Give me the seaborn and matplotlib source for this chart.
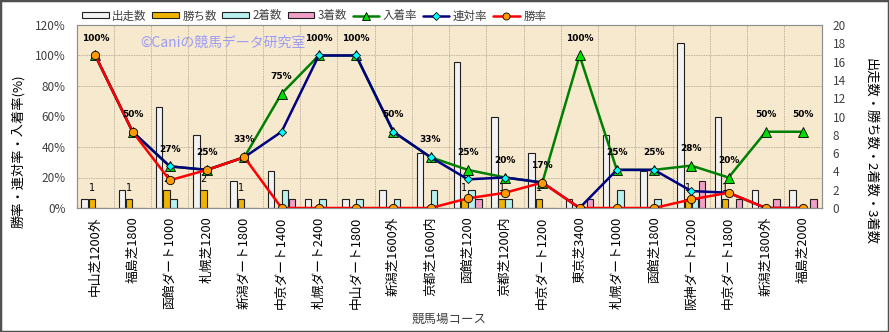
import numpy as np
import pandas as pd
import matplotlib
matplotlib.use("Agg")
import matplotlib.pyplot as plt
from matplotlib.patches import Patch, Rectangle
from matplotlib.lines import Line2D
import seaborn as sns

# ---- data -------------------------------------------------------------
courses = ["中山芝1200外", "福島芝1800", "函館ダート1000", "札幌芝1200", "新潟ダート1800",
           "中京ダート1400", "札幌ダート2400", "中山ダート1800", "新潟芝1600外", "京都芝1600内",
           "函館芝1200", "京都芝1200内", "中京ダート1200", "東京芝3400", "札幌ダート1000",
           "函館芝1800", "阪神ダート1200", "中京ダート1800", "新潟芝1800外", "福島芝2000"]

runs = [1, 2, 11, 8, 3, 4, 1, 1, 2, 6, 16, 10, 6, 1, 8, 4, 18, 10, 2, 2]
wins = [1, 1, 2, 2, 1, 0, 0, 0, 0, 0, 1, 1, 1, 0, 0, 0, 1, 1, 0, 0]
seconds = [0, 0, 1, 0, 0, 2, 1, 1, 1, 2, 2, 1, 0, 0, 2, 1, 1, 0, 0, 0]
thirds = [0, 0, 0, 0, 0, 1, 0, 0, 0, 0, 1, 0, 0, 1, 0, 0, 3, 1, 1, 1]

win_rate = [100, 50, 18.2, 25, 33.3, 0, 0, 0, 0, 0, 6.3, 10, 16.7, 0, 0, 0, 5.6, 10, 0, 0]
quinella_rate = [100, 50, 27.3, 25, 33.3, 50, 100, 100, 50, 33.3, 18.8, 20, 16.7, 0, 25, 25, 11.1, 10, 0, 0]
place_rate = [100, 50, 27.3, 25, 33.3, 75, 100, 100, 50, 33.3, 25, 20, 16.7, 100, 25, 25, 27.8, 20, 50, 50]

count_names = ["出走数", "勝ち数", "2着数", "3着数"]
rate_names = ["入着率", "連対率", "勝率"]

# ---- style ------------------------------------------------------------
sns.set_style("white")
plt.rcParams["font.family"] = ["Noto Sans CJK JP", "DejaVu Sans"]

bar_colors = ["#F2F2F2", "#F0B400", "#B8F0F0", "#F0A0C8"]
line_styles = {
    "入着率": dict(color="#008000", marker="^", mfc="#00DD00", ms=7.5),
    "連対率": dict(color="#000080", marker="D", mfc="#00FFFF", ms=4.5),
    "勝率": dict(color="#FF0000", marker="o", mfc="#FF9A00", ms=6),
}
text_gray = "#404040"

fig = plt.figure(figsize=(8.89, 3.32), dpi=100)
ax = fig.add_axes([76.7 / 889, 1 - 208 / 332, (821.7 - 76.7) / 889, (208 - 25) / 332])
ax.set_facecolor("#F7E9CE")

# ---- count bars (right scale) ----------------------------------------
df = pd.DataFrame({
    "コース": courses * 4,
    "数": runs + wins + seconds + thirds,
    "系列": sum([[n] * len(courses) for n in count_names], []),
})
sns.barplot(data=df, x="コース", y="数", hue="系列", hue_order=count_names,
            palette=bar_colors, saturation=1, width=0.76, gap=0.08,
            edgecolor="#202020", linewidth=0.8, ax=ax, legend=False)

win_bars = ax.containers[1]
ax.bar_label(win_bars, labels=[str(v) if v else "" for v in wins],
             padding=4, fontsize=7, color="black", family="DejaVu Sans")

# ---- rate lines (left scale) -----------------------------------------
ax2 = ax.twinx()

ax.set_xlim(-0.5, len(courses) - 0.5)
ax.set_ylim(0, 20)
ax.set_yticks(np.arange(0, 21, 2))
ax.yaxis.tick_right()
ax.yaxis.set_label_position("right")
ax.set_ylabel("出走数・勝ち数・2着数・3着数", rotation=270, fontsize=9.5,
              color="black", va="center")
ax.yaxis.set_label_coords(1.065, 0.31)
ax.set_xlabel("競馬場コース", fontsize=9, color=text_gray, labelpad=3)
ax.set_xticks(range(len(courses)))
ax.set_xticklabels(courses, rotation=90, fontsize=9.2, color="black")

# dotted background grid: category boundaries and every 20 %
ax.set_xticks(np.arange(-0.5, len(courses), 1), minor=True)
ax.set_yticks(np.linspace(0, 20, 7), minor=True)
ax.grid(False)
ax.grid(which="minor", ls=(0, (1, 1)), color="#A89F8C", lw=0.6)
ax.set_axisbelow(True)
ax.tick_params(which="both", length=0)
ax.tick_params(axis="y", labelsize=8.5, labelcolor=text_gray, pad=8)
ax.tick_params(axis="x", pad=6)

ax2.yaxis.tick_left()
ax2.yaxis.set_label_position("left")
pos = np.arange(len(courses))
for name, vals in zip(rate_names, [place_rate, quinella_rate, win_rate]):
    st = line_styles[name]
    sns.lineplot(x=pos, y=vals, ax=ax2, color=st["color"], lw=1.8,
                 marker=st["marker"], markersize=st["ms"],
                 markerfacecolor=st["mfc"], markeredgecolor="black",
                 markeredgewidth=0.6)

for x, v in zip(pos, place_rate):
    ax2.annotate(f"{v:.0f}%", (x, v), xytext=(0, 12.5), textcoords="offset points",
                 ha="center", va="center", fontsize=6.5, fontweight="bold",
                 family="DejaVu Sans", color="black")

ax2.set_ylim(0, 120)
ax2.set_yticks(np.arange(0, 121, 20))
ax2.set_yticklabels([f"{t}%" for t in range(0, 121, 20)])
ax2.set_ylabel("勝率・連対率・入着率(%)", fontsize=9.5, color="black", va="center")
ax2.yaxis.set_label_coords(-0.079, 0.31)
ax2.tick_params(length=0, labelsize=8.5, labelcolor=text_gray, pad=8)
ax2.grid(False)

for a in (ax, ax2):
    for s in a.spines.values():
        s.set_color("#909090")
        s.set_linewidth(0.8)

# watermark
fig.text(140 / 889, 1 - 43 / 332, "©Caniの競馬データ研究室", fontsize=10,
         color="#9B9BF5", va="center", ha="left")

# ---- legend -----------------------------------------------------------
handles = [Patch(facecolor=c, edgecolor="#202020", lw=0.8) for c in bar_colors]
for name in rate_names:
    st = line_styles[name]
    handles.append(Line2D([], [], color=st["color"], lw=1.8, marker=st["marker"],
                          markersize=st["ms"] * 0.85, markerfacecolor=st["mfc"],
                          markeredgecolor="black", markeredgewidth=0.6))
leg = fig.legend(handles, count_names + rate_names, loc="center left",
                 bbox_to_anchor=(82 / 889, 1 - 16 / 332), ncol=7, frameon=False,
                 fontsize=8.3, handlelength=2.3, handleheight=0.45,
                 columnspacing=0.5, handletextpad=0.3, borderaxespad=0,
                 borderpad=0)
for t in leg.get_texts():
    t.set_color(text_gray)

# outer frame
fig.patches.append(Rectangle((0, 0), 1, 1, transform=fig.transFigure,
                             fill=False, edgecolor="#505050", lw=2.5))

fig.savefig("out.png", dpi=100)
